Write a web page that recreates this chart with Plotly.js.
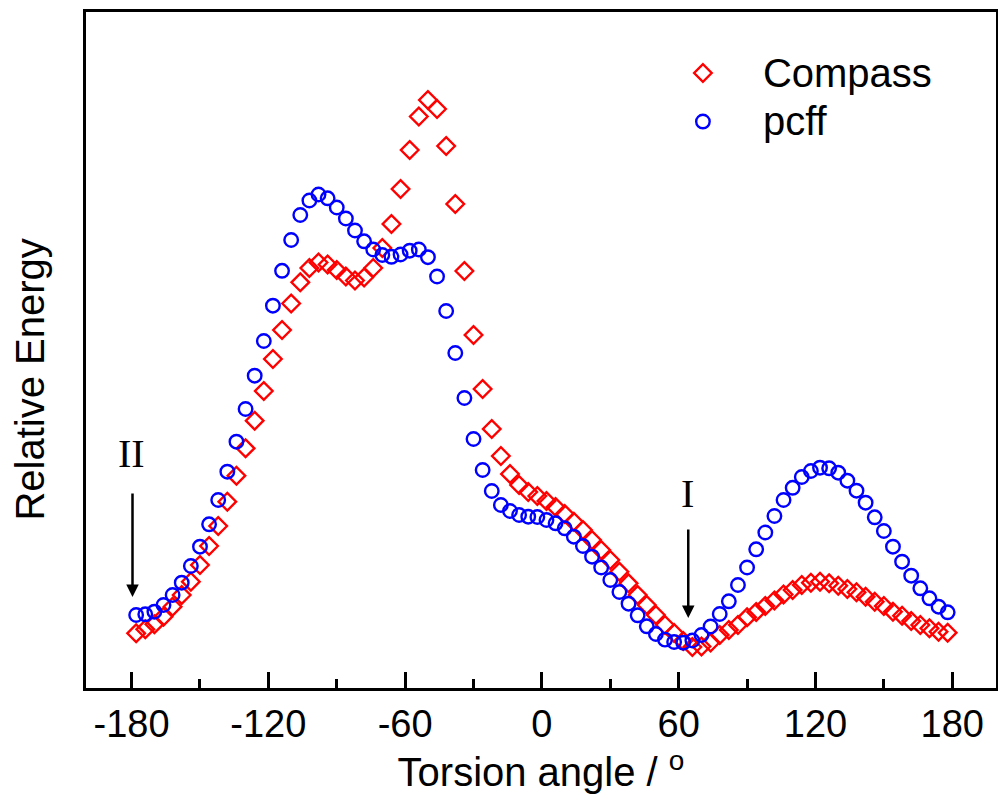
<!DOCTYPE html>
<html>
<head>
<meta charset="utf-8">
<script src="https://cdn.plot.ly/plotly-3.0.1.min.js"></script>
<style>html,body{margin:0;padding:0;background:#fff;}#chart{width:998px;height:803px;}</style>
</head>
<body>
<div id="chart"></div>
<script>
// Torsion angle (degrees)
const angles = [-178,-174,-170,-166,-162,-158,-154,-150,-146,-142,-138,-134,-130,-126,-122,-118,-114,-110,-106,-102,
  -98,-94,-90,-86,-82,-78,-74,-70,-66,-62,-58,-54,-50,-46,-42,-38,-34,-30,-26,-22,-18,-14,-10,-6,-2,
  2,6,10,14,18,22,26,30,34,38,42,46,50,54,58,62,66,70,74,78,82,86,90,94,98,
  102,106,110,114,118,122,126,130,134,138,142,146,150,154,158,162,166,170,174,178];

// Relative energy (arbitrary units), Compass force field
const compass = [1.37,1.77,2.27,3.03,4.03,5.20,6.53,8.20,10.10,12.10,14.53,17.13,19.87,22.63,25.60,28.80,31.70,34.35,36.47,37.90,
  38.45,38.25,37.70,37.05,36.65,36.95,37.90,39.90,42.30,45.80,49.70,53.05,54.70,53.80,50.10,44.30,37.60,31.20,25.80,21.80,19.10,17.30,16.20,15.50,15.10,
  14.60,14.00,13.30,12.53,11.70,10.70,9.70,8.70,7.53,6.37,5.20,4.20,3.20,2.20,1.40,0.60,0.00,0.05,0.45,1.20,1.70,2.20,2.97,3.50,4.10,
  4.65,5.25,5.70,6.20,6.43,6.53,6.37,6.13,5.80,5.47,5.03,4.53,4.10,3.53,3.13,2.60,2.20,1.87,1.53,1.43];

// Relative energy (arbitrary units), pcff force field
const pcff = [3.20,3.27,3.53,4.20,5.20,6.43,8.10,10.03,12.27,14.70,17.53,20.53,23.80,27.13,30.60,34.13,37.62,40.70,43.20,44.65,
  45.25,44.87,43.95,42.85,41.65,40.57,39.75,39.20,39.02,39.25,39.63,39.75,38.98,37.05,33.60,29.40,24.90,20.80,17.70,15.60,14.20,13.60,13.20,13.03,13.00,
  12.70,12.37,11.87,11.03,10.10,9.03,7.95,6.70,5.50,4.33,3.17,2.07,1.30,0.74,0.50,0.43,0.65,1.20,2.05,3.30,4.57,6.20,7.95,9.77,11.45,
  13.10,14.70,15.92,17.00,17.60,17.93,17.87,17.43,16.63,15.63,14.43,12.97,11.60,10.03,8.53,7.13,5.87,4.87,4.03,3.47];

const tickVals = [-180,-120,-60,0,60,120,180];
const tickText = ['-180','-120','-60','0','60','120','180'];
const seriesNames = ['Compass','pcff'];

const sans = 'Liberation Sans, Arial, sans-serif';
const serif = 'Liberation Serif, Times New Roman, serif';

const big = s => '<span style="font-size:40px">' + s + '</span>';

const traces = [
  {x: angles, y: compass, name: big(seriesNames[0]), type: 'scatter', mode: 'markers',
   marker: {symbol: 'diamond-open', size: 13.5, color: '#ff0000', line: {width: 2.4, color: '#ff0000'}}},
  {x: angles, y: pcff, name: big(seriesNames[1]), type: 'scatter', mode: 'markers',
   marker: {symbol: 'circle-open', size: 13.5, color: '#0000ff', line: {width: 2.4, color: '#0000ff'}}}
];

const layout = {
  width: 998, height: 803,
  margin: {l: 86, r: 2, t: 12, b: 115},
  paper_bgcolor: '#ffffff', plot_bgcolor: '#ffffff',
  font: {family: sans, color: '#000000'},
  showlegend: true,
  legend: {x: 0.612, y: 0.953, xanchor: 'left', yanchor: 'top', bgcolor: 'rgba(0,0,0,0)',
           font: {family: sans, size: 35, color: '#000'}, itemwidth: 110},
  xaxis: {
    range: [-200, 199.2], showgrid: false, zeroline: false,
    showline: true, linewidth: 3, linecolor: '#000', mirror: true,
    tickmode: 'array', tickvals: tickVals, ticktext: tickText,
    ticks: 'inside', ticklen: 16, tickwidth: 3, tickcolor: '#000',
    tickfont: {family: sans, size: 38, color: '#000'},
    minor: {tickmode: 'linear', tick0: -180, dtick: 30, ticks: 'inside', ticklen: 9, tickwidth: 3, tickcolor: '#000', showgrid: false},
    title: {text: 'Torsion angle / <sup>o</sup>', font: {family: sans, size: 40, color: '#000'}, standoff: 13}
  },
  yaxis: {
    range: [-4.1, 63.5], showgrid: false, zeroline: false,
    showline: true, linewidth: 3, linecolor: '#000', mirror: true,
    showticklabels: false, ticks: ''
  },
  annotations: [
    {text: 'Relative Energy', xref: 'paper', yref: 'paper', x: -0.061, y: 0.457, textangle: -90,
     showarrow: false, font: {family: sans, size: 40, color: '#000'}, xanchor: 'center', yanchor: 'middle'},
    {text: 'II', xref: 'x', yref: 'y', x: -180, y: 19.4, showarrow: false,
     font: {family: serif, size: 40, color: '#000'}, xanchor: 'center', yanchor: 'middle'},
    {text: 'I', xref: 'x', yref: 'y', x: 64, y: 15.4, showarrow: false,
     font: {family: serif, size: 40, color: '#000'}, xanchor: 'center', yanchor: 'middle'},
    {text: ' ', xref: 'x', yref: 'y', x: -179.6, y: 5.0, axref: 'x', ayref: 'y', ax: -179.6, ay: 16.2,
     showarrow: true, arrowhead: 2, arrowsize: 1, arrowwidth: 2.5, arrowcolor: '#000', standoff: 0},
    {text: ' ', xref: 'x', yref: 'y', x: 64.2, y: 2.9, axref: 'x', ayref: 'y', ax: 64.2, ay: 12.6,
     showarrow: true, arrowhead: 2, arrowsize: 1, arrowwidth: 2.5, arrowcolor: '#000', standoff: 0}
  ]
};

Plotly.newPlot('chart', traces, layout, {displayModeBar: false, staticPlot: true});
</script>
</body>
</html>
